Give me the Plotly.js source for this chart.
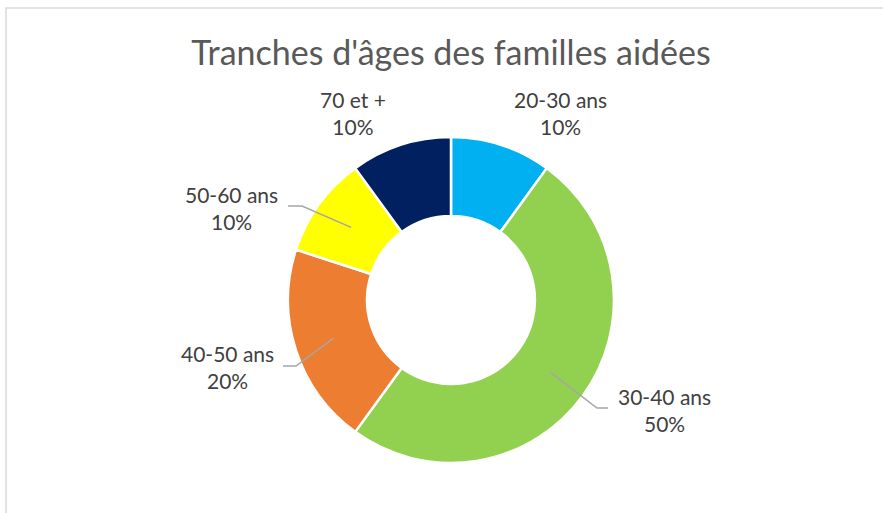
<!DOCTYPE html>
<html>
<head>
<meta charset="utf-8">
<script src="https://cdn.plot.ly/plotly-3.0.1.min.js"></script>
<style>
  html, body { margin: 0; padding: 0; background: #fff; }
  #chart { width: 883px; height: 513px; }
</style>
</head>
<body>
<div id="chart"></div>
<script>
// Données
const LABELS = ["20-30 ans", "30-40 ans", "40-50 ans", "50-60 ans", "70 et +"];
const VALUES = [10, 50, 20, 10, 10];
const COLORS = ["#00B0F0", "#92D050", "#ED7D31", "#FFFF00", "#002060"];

// Mise en page (pixels de la fenêtre)
const W = 883, H = 513;
const CX = 451, CY = 300, R_OUT = 163, HOLE = 0.515;

// position du centre de chaque étiquette
const LABEL_POS = [[560, 113], [664, 410], [227, 367], [232, 208], [353, 113]];
// traits de rappel: [coude, fin] ou null
const LEADERS = [null, [[597, 408], [608, 408]], [[296, 366], [283, 366]], [[302, 206], [288, 206]], null];

const px = x => x / W;
const py = y => 1 - y / H;

const total = VALUES.reduce((a, b) => a + b, 0);

const DATA = [{
  type: "pie",
  labels: LABELS,
  values: VALUES,
  sort: false,
  direction: "clockwise",
  rotation: 0,
  hole: HOLE,
  textinfo: "none",
  hoverinfo: "label+percent",
  showlegend: false,
  marker: { colors: COLORS, line: { color: "#FFFFFF", width: 2.5 } },
  domain: {
    x: [px(CX - R_OUT), px(CX + R_OUT)],
    y: [py(CY + R_OUT), py(CY - R_OUT)]
  }
}];

// étiquettes et traits calculés à partir des valeurs
const annotations = [];
const shapes = [{
  type: "rect", xref: "paper", yref: "paper",
  x0: px(6), x1: 1.2, y0: -0.2, y1: py(8),
  line: { color: "#D9D9D9", width: 1.5 }
}];

let cum = 0;
const rMid = R_OUT * (1 + HOLE) / 2;
VALUES.forEach((v, i) => {
  const mid = (cum + v / 2) / total * 2 * Math.PI;
  cum += v;
  annotations.push({
    xref: "paper", yref: "paper",
    x: px(LABEL_POS[i][0]), y: py(LABEL_POS[i][1]),
    xanchor: "center", yanchor: "middle",
    showarrow: false,
    text: LABELS[i] + "<br>" + Math.round(v / total * 100) + "%",
    font: { size: 21, color: "#404040" }
  });
  if (LEADERS[i]) {
    const sx = CX + rMid * Math.sin(mid);
    const sy = CY - rMid * Math.cos(mid);
    const [e, f] = LEADERS[i];
    shapes.push({
      type: "path", xref: "paper", yref: "paper",
      path: `M ${px(sx)} ${py(sy)} L ${px(e[0])} ${py(e[1])} L ${px(f[0])} ${py(f[1])}`,
      line: { color: "#A6A6A6", width: 1.5 }
    });
  }
});

const LAYOUT = {
  width: W, height: H,
  margin: { l: 0, r: 0, t: 0, b: 0 },
  paper_bgcolor: "#FFFFFF",
  font: { family: "Lato, 'Open Sans', sans-serif", color: "#404040" },
  title: {
    text: "Tranches d'âges des familles aidées",
    x: px(451), y: py(53), xanchor: "center", yanchor: "middle",
    xref: "paper", yref: "paper",
    font: { size: 34, color: "#595959" }
  },
  annotations: annotations,
  shapes: shapes
};

Plotly.newPlot("chart", DATA, LAYOUT, { displayModeBar: false });
</script>
</body>
</html>
